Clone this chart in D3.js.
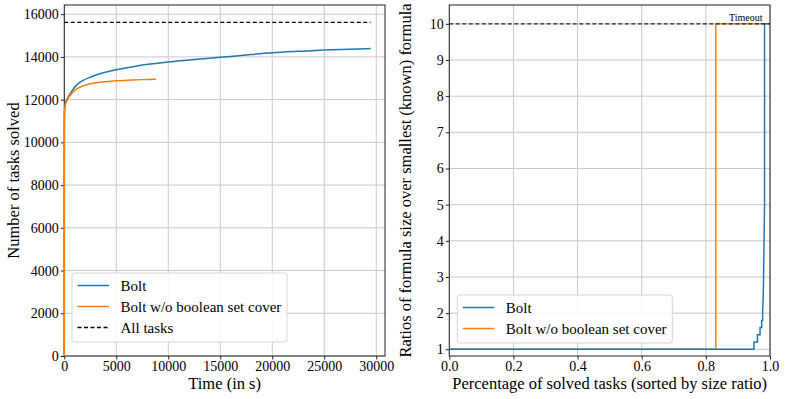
<!DOCTYPE html>
<html>
<head>
<meta charset="utf-8">
<script src="https://cdn.jsdelivr.net/npm/d3@7"></script>
<style>
  body { margin: 0; background: #fff; }
  svg { display: block; font-family: "Liberation Serif", "DejaVu Serif", serif; }
  .domain { display: none; }
</style>
</head>
<body>
<svg width="785" height="399"></svg>
<script>
// left panel: tasks solved over time
var boltTime = [0, 2, 10, 40, 120, 300, 700, 1200, 1800, 2500, 3500, 5000, 7000, 10000, 12500, 15000, 17500, 20000, 22500, 25000, 27500, 29460]
var boltSolved = [0, 9000, 11000, 11600, 11850, 12050, 12380, 12690, 12900, 13050, 13220, 13400, 13580, 13760, 13880, 13980, 14090, 14190, 14260, 14320, 14360, 14390]
var noCoverTime = [0, 2, 10, 40, 120, 300, 700, 1200, 2000, 3000, 4000, 5000, 6500, 8000, 8820]
var noCoverSolved = [0, 9000, 10900, 11500, 11780, 11990, 12280, 12500, 12670, 12780, 12840, 12880, 12915, 12945, 12960]
var allTasks = 15620
var allTasksEnd = 29460

// right panel: size ratios (step curves)
var boltPct = [0, 0.95, 0.95, 0.961, 0.961, 0.969, 0.969, 0.974, 0.974, 0.977, 0.977, 0.979, 0.980, 0.9815, 0.983, 0.983, 1.0]
var boltRatio = [1, 1, 1.2, 1.2, 1.4, 1.4, 1.6, 1.6, 1.8, 1.8, 2.0, 2.5, 3.0, 4.0, 5.0, 10, 10]
var noCoverPct = [0, 0.831, 0.831, 1.0]
var noCoverRatio = [1, 1, 10, 10]
var timeout = 10

var leftTicksX = [0, 5000, 10000, 15000, 20000, 25000, 30000]
var leftTicksY = [0, 2000, 4000, 6000, 8000, 10000, 12000, 14000, 16000]
var rightTicksX = [0, 0.2, 0.4, 0.6, 0.8, 1.0]
var rightTicksY = [1, 2, 3, 4, 5, 6, 7, 8, 9, 10]

var serif = '"Liberation Serif", "DejaVu Serif", serif'
var blue = '#1f77b4', orange = '#ff7f0e'
var svg = d3.select('svg')

function zip(xs, ys) { return xs.map((x, i) => [x, ys[i]]) }

function styleAxis(a) {
  a.attr('font-family', serif).attr('font-size', 14)
  a.selectAll('.tick text').attr('fill', '#000').style('font-family', serif).style('font-size', '14px')
  a.selectAll('.tick line').attr('stroke', '#222')
}

function panel(opt) {
  var x = d3.scaleLinear().domain(opt.xDomain).range([opt.left, opt.right])
  var y = d3.scaleLinear().domain(opt.yDomain).range([356, 5])
  var g = svg.append('g')

  // grid
  g.selectAll('.gx').data(opt.xTicks).enter().append('line')
    .attr('x1', d => x(d)).attr('x2', d => x(d)).attr('y1', 5).attr('y2', 356)
    .attr('stroke', '#c8c8c8').attr('stroke-width', 1)
  g.selectAll('.gy').data(opt.yTicks).enter().append('line')
    .attr('x1', opt.left).attr('x2', opt.right).attr('y1', d => y(d)).attr('y2', d => y(d))
    .attr('stroke', '#c8c8c8').attr('stroke-width', 1)

  g.append('g').attr('transform', 'translate(0,356)')
    .call(d3.axisBottom(x).tickValues(opt.xTicks).tickFormat(opt.xFmt).tickSize(3.5).tickPadding(2))
    .call(styleAxis)
  g.append('g').attr('transform', 'translate(' + opt.left + ',0)')
    .call(d3.axisLeft(y).tickValues(opt.yTicks).tickFormat(opt.yFmt).tickSize(3.5).tickPadding(2))
    .call(styleAxis)

  // frame
  g.append('rect').attr('x', opt.left).attr('y', 5)
    .attr('width', opt.right - opt.left).attr('height', 351)
    .attr('fill', 'none').attr('stroke', '#222').attr('stroke-width', 1)

  g.append('text').attr('x', (opt.left + opt.right) / 2).attr('y', 389)
    .attr('text-anchor', 'middle').attr('font-size', 16.5).text(opt.xLabel)
  g.append('text').attr('transform', 'translate(' + opt.yLabelX + ',' + 180.5 + ') rotate(-90)')
    .attr('text-anchor', 'middle').attr('font-size', 16.5).text(opt.yLabel)

  return { x: x, y: y, g: g }
}

function legend(g, x0, y0, w, items) {
  var h = items.length * 21 + 6
  g.append('rect').attr('x', x0).attr('y', y0).attr('width', w).attr('height', h)
    .attr('rx', 2.5).attr('fill', '#fff').attr('fill-opacity', 0.85)
    .attr('stroke', '#d6d6d6').attr('stroke-width', 1)
  items.forEach((it, i) => {
    var cy = y0 + 12.5 + i * 21
    g.append('line').attr('x1', x0 + 5.5).attr('x2', x0 + 37).attr('y1', cy).attr('y2', cy)
      .attr('stroke', it.color).attr('stroke-width', 1.5).attr('stroke-dasharray', it.dash || null)
    g.append('text').attr('x', x0 + 48.5).attr('y', cy + 5).attr('font-size', 15).text(it.label)
  })
}

// left
var L = panel({
  left: 64.3, right: 385, xDomain: [0, 30840], yDomain: [0, 16430],
  xTicks: leftTicksX, yTicks: leftTicksY, xFmt: d3.format('d'), yFmt: d3.format('d'),
  xLabel: 'Time (in s)', yLabel: 'Number of tasks solved', yLabelX: 19
})
var lineL = d3.line().x(d => L.x(d[0])).y(d => L.y(d[1])).curve(d3.curveMonotoneX)
L.g.append('path').datum(zip(boltTime, boltSolved)).attr('d', lineL)
  .attr('fill', 'none').attr('stroke', blue).attr('stroke-width', 1.5)
L.g.append('path').datum(zip(noCoverTime, noCoverSolved)).attr('d', lineL)
  .attr('fill', 'none').attr('stroke', orange).attr('stroke-width', 1.5)
L.g.append('line').attr('x1', L.x(0)).attr('x2', L.x(allTasksEnd))
  .attr('y1', L.y(allTasks)).attr('y2', L.y(allTasks))
  .attr('stroke', '#000').attr('stroke-width', 1.2).attr('stroke-dasharray', '4,2.5')
legend(L.g, 72, 273, 215, [
  { color: blue, label: 'Bolt' },
  { color: orange, label: 'Bolt w/o boolean set cover' },
  { color: '#000', label: 'All tasks', dash: '4,2.5' }
])

// right
var R = panel({
  left: 449.3, right: 770, xDomain: [0, 1], yDomain: [0.815, 10.52],
  xTicks: rightTicksX, yTicks: rightTicksY, xFmt: d3.format('.1f'), yFmt: d3.format('d'),
  xLabel: 'Percentage of solved tasks (sorted by size ratio)',
  yLabel: 'Ratios of formula size over smallest (known) formula', yLabelX: 411
})
var lineR = d3.line().x(d => R.x(d[0])).y(d => R.y(d[1]))
R.g.append('path').datum(zip(noCoverPct, noCoverRatio)).attr('d', lineR)
  .attr('fill', 'none').attr('stroke', orange).attr('stroke-width', 1.5)
R.g.append('path').datum(zip(boltPct, boltRatio)).attr('d', lineR)
  .attr('fill', 'none').attr('stroke', blue).attr('stroke-width', 1.5)
R.g.append('line').attr('x1', R.x(0)).attr('x2', R.x(1))
  .attr('y1', R.y(timeout)).attr('y2', R.y(timeout))
  .attr('stroke', '#222').attr('stroke-width', 1.2).attr('stroke-dasharray', '4,2.5')
R.g.append('text').attr('x', R.x(1) - 7.5).attr('y', R.y(timeout) - 3)
  .attr('text-anchor', 'end').attr('font-size', 10).text('Timeout')
legend(R.g, 457.3, 295, 215, [
  { color: blue, label: 'Bolt' },
  { color: orange, label: 'Bolt w/o boolean set cover' }
])
</script>
</body>
</html>
